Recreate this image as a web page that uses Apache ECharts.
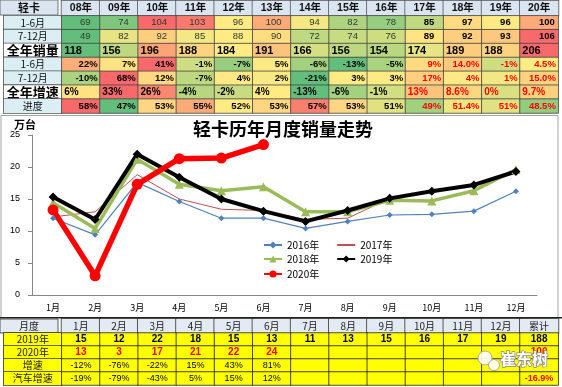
<!DOCTYPE html>
<html><head><meta charset="utf-8">
<script src="https://cdn.jsdelivr.net/npm/echarts@6/dist/echarts.min.js"></script>
<style>html,body{margin:0;padding:0;background:#fff}#c{width:562px;height:387px}</style>
</head><body><div id="c"></div>
<script>
// ---------------- data ----------------
const years = ['08年','09年','10年','11年','12年','13年','14年','15年','16年','17年','18年','19年','20年'];
const topRowLabels = ['1-6月','7-12月','全年销量','1-6月','7-12月','全年增速','进度'];
const sales1H = [69,74,104,103,96,100,94,82,78,85,97,96,100];
const sales2H = [49,82,92,85,88,90,72,74,76,89,92,93,106];
const salesYear = [118,156,196,188,184,191,166,156,154,174,189,188,206];
const growth1H = ['22%','7%','41%','-1%','-7%','5%','-6%','-13%','-5%','9%','14.0%','-1%','4.5%'];
const growth2H = ['-10%','68%','12%','-7%','4%','2%','-21%','3%','3%','17%','4%','1%','15.0%'];
const growthYear = ['6%','33%','26%','-4%','-2%','4%','-13%','-6%','-1%','13%','8.6%','0%','9.7%'];
const progress = ['58%','47%','53%','55%','52%','53%','57%','53%','51%','49%','51.4%','51%','48.5%'];

const months = ['1月','2月','3月','4月','5月','6月','7月','8月','9月','10月','11月','12月'];
const seriesNames = ['2016年','2017年','2018年','2019年','2020年'];
const s2016 = [12.0,9.4,17.6,14.6,12.0,12.0,10.4,11.5,12.5,12.6,13.1,16.2];
const s2017 = [12.2,13.0,18.8,15.0,13.4,13.2,11.8,12.0,15.1,14.6,16.4,19.5];
const s2018 = [14.4,10.4,21.2,17.3,16.3,16.9,13.0,13.0,14.8,14.7,16.3,19.6];
const s2019 = [15.3,11.8,22.0,18.4,15.0,13.1,11.5,13.2,15.1,16.2,17.2,19.3];
const s2020 = [13.3,3.0,17.3,21.3,21.4,23.5];

const bottomCols = ['1月','2月','3月','4月','5月','6月','7月','8月','9月','10月','11月','12月','累计'];
const bottomRowLabels = ['2019年','2020年','增速','汽车增速'];
const b2019 = ['15','12','22','18','15','13','11','13','15','16','17','19','188'];
const b2020 = ['13','3','17','21','22','24','','','','','','','100'];
const bGrowth = ['-12%','-76%','-22%','15%','43%','81%','','','','','','',''];
const bCarGrowth = ['-19%','-79%','-43%','5%','15%','12%','','','','','','','-16.9%'];

// ---------------- helpers ----------------
const FONT = "'Liberation Sans','Noto Sans CJK SC',sans-serif";
const CJK = "'Noto Sans CJK SC',sans-serif";
const bw = (562 - 58 - 2) / 13;
const G = [99,190,123], Y = [255,235,132], R = [248,105,107];
function lerp(a,b,t){return 'rgb('+a.map((v,i)=>Math.round(v+(b[i]-v)*t)).join(',')+')';}
function scaleFor(arr){
  const n = arr.map(v => parseFloat(v));
  const s = [...n].sort((a,b)=>a-b);
  const mn = s[0], mx = s[s.length-1], med = s[Math.floor(s.length/2)];
  return v => { v = parseFloat(v);
    if (v <= med) return lerp(G, Y, med===mn?1:(v-mn)/(med-mn));
    return lerp(Y, R, (v-med)/(mx-med)); };
}
const topRows = [sales1H, sales2H, salesYear, growth1H, growth2H, growthYear, progress];
function topLabel(r, c, text){
  const late = c >= 9;
  const base = {show:true, formatter: String(text), fontFamily: FONT};
  if (r <= 1) return Object.assign(base,{position:'insideRight', distance: c===12?4:10, fontSize:9.5,
      color: late?'#000':'#2d3b2d', fontWeight: late?'bold':'normal'});
  if (r === 2) return Object.assign(base,{position:'insideLeft', distance:3, fontSize:11, fontWeight:'bold', color:'#000'});
  if (r === 5) return Object.assign(base,{position:'insideLeft', distance:3, fontSize:10, fontWeight:'bold', color: late?'#f00':'#000'});
  return Object.assign(base,{position:'insideRight', distance:3, fontSize:9.5, fontWeight:'bold', color: late?'#f00':'#000'});
}
const topData = [];
topRows.forEach((row, r) => {
  const sc = scaleFor(row);
  row.forEach((v, c) => {
    topData.push({value:[c, r, parseFloat(v)], itemStyle:{color: sc(v)}, label: topLabel(r, c, v)});
  });
});
const bottomRows = [b2019, b2020, bGrowth, bCarGrowth];
const bottomData = [];
bottomRows.forEach((row, r) => {
  row.forEach((v, c) => {
    const red = r === 1 || (c === 12 && r === 3);
    bottomData.push({value:[c, r, 1], label:{show:true, formatter: v, fontFamily: FONT,
      fontSize: r<=1 ? 10 : 9, fontWeight: (r<=1 || red) ? 'bold':'normal', color: red?'#f00':'#000'}});
  });
});

const lineColors = ['#4f81bd','#c0504d','#9bbb59','#000000','#ff0000'];
const lineWidths = [1.2, 1, 3.5, 4, 5.5];
const symbols = ['diamond','none','triangle','diamond','circle'];
const symbolSizes = [6, 0, 9, 9, 11];
const lineData = [s2016, s2017, s2018, s2019, s2020];

function legendItem(i){
  return symbols[i] === 'none' ? {name: seriesNames[i], itemStyle:{opacity:0}} : {name: seriesNames[i]};
}

const chart = echarts.init(document.getElementById('c'), null, {renderer:'canvas'});
chart.setOption({
  animation:false,
  backgroundColor:'#fff',
  textStyle:{fontFamily: FONT},
  title:{text:'轻卡历年月度销量走势', left:193, top:120, padding:0,
    textStyle:{fontSize:18, fontWeight:'bold', color:'#000', fontFamily: CJK}},
  legend:[
    {data:[legendItem(0),legendItem(1)], left:263, top:240},
    {data:[legendItem(2),legendItem(3)], left:263, top:254},
    {data:[legendItem(4)], left:263, top:269}
  ].map(l => Object.assign(l,{orient:'horizontal', padding:0, itemGap:17, itemWidth:18, itemHeight:9,
      textStyle:{fontSize:10, color:'#000', fontFamily: CJK}, selectedMode:false})),
  grid:[
    {left:58, right:2, top:15, height:98},
    {left:32, right:25, top:135, height:160},
    {left:58, right:2, top:333, height:52}
  ],
  xAxis:[
    {type:'category', gridIndex:0, position:'top', data: years,
      axisLine:{show:false}, axisTick:{show:false},
      axisLabel:{interval:0, margin:0, formatter: v => '{h|'+v+'}',
        rich:{h:{width:bw, height:15, lineHeight:15, align:'center', backgroundColor:'#dbe5f1',
          borderColor:'#555', borderWidth:0.8, fontWeight:'bold', fontSize:10.5, color:'#111', fontFamily: FONT}}}},
    {type:'category', gridIndex:1, data: months, boundaryGap:true,
      axisLine:{lineStyle:{color:'#868686'}}, axisTick:{inside:true, length:4, lineStyle:{color:'#868686'}},
      axisLabel:{fontSize:9, color:'#000', margin:8, fontFamily: CJK}},
    {type:'category', gridIndex:2, position:'top', data: bottomCols,
      axisLine:{show:false}, axisTick:{show:false},
      axisLabel:{interval:0, margin:0, formatter: v => '{h|'+v+'}',
        rich:{h:{width:bw, height:14, lineHeight:14, align:'center', backgroundColor:'#e3eaf4',
          borderColor:'#333', borderWidth:0.8, fontSize:10, color:'#222', fontFamily: CJK}}}}
  ],
  yAxis:[
    {type:'category', gridIndex:0, inverse:true, data: topRowLabels,
      axisLine:{show:false}, axisTick:{show:false},
      axisLabel:{interval:0, margin:0,
        formatter: (v, i) => (i===2||i===5 ? '{big|' : '{blue|') + v + '}',
        rich:{
          blue:{width:58, height:14, lineHeight:14, align:'center', backgroundColor:'#daeef3',
            borderColor:'#555', borderWidth:0.8, fontSize:10, color:'#111', fontFamily: CJK},
          big:{width:58, height:14, lineHeight:14, align:'center', backgroundColor:'#fff',
            borderColor:'#555', borderWidth:0.8, fontSize:13, fontWeight:'bold', color:'#000', fontFamily: CJK}}}},
    {type:'value', gridIndex:1, min:0, max:25, interval:5, name:'万台', nameLocation:'end', nameGap:5,
      nameTextStyle:{fontSize:11, color:'#000', fontWeight:'bold', align:'center', padding:[0,14,0,0], fontFamily: CJK},
      axisLine:{show:true, lineStyle:{color:'#868686'}}, axisTick:{show:true, length:4, lineStyle:{color:'#868686'}},
      splitLine:{show:false}, axisLabel:{fontSize:9, color:'#000', margin:12}},
    {type:'category', gridIndex:2, inverse:true, data: bottomRowLabels,
      axisLine:{show:false}, axisTick:{show:false},
      axisLabel:{interval:0, margin:0, formatter: v => '{y|'+v+'}',
        rich:{y:{width:58, height:13, lineHeight:13, align:'center', backgroundColor:'#ffff00',
          borderColor:'#333', borderWidth:0.8, fontSize:10, color:'#222', fontFamily: CJK}}}}
  ],
  graphic:[
    {type:'rect', shape:{x:1, y:115.5, width:557, height:202}, style:{fill:'none', stroke:'#a6a6a6', lineWidth:1}, z:-1, silent:true},
    {type:'rect', shape:{x:0, y:0, width:58, height:15}, style:{fill:'#dbe5f1', stroke:'#555', lineWidth:0.8}, silent:true},
    {type:'text', x:29, y:7.5, style:{text:'轻卡', fontSize:11, fontWeight:'bold', fill:'#111', align:'center', verticalAlign:'middle', fontFamily: CJK}, silent:true},
    {type:'rect', shape:{x:0, y:319, width:58, height:14}, style:{fill:'#e3eaf4', stroke:'#333', lineWidth:0.8}, silent:true},
    {type:'text', x:29, y:326, style:{text:'月度', fontSize:10, fill:'#222', align:'center', verticalAlign:'middle', fontFamily: CJK}, silent:true},
    {type:'rect', shape:{x:0, y:317, width:562, height:1.5}, style:{fill:'#222'}, silent:true},
    {type:'circle', shape:{cx:485, cy:358, r:7}, style:{fill:'rgba(255,255,255,0.9)', stroke:'#aaa', lineWidth:1}, z:50, silent:true},
    {type:'circle', shape:{cx:494, cy:365, r:5.5}, style:{fill:'rgba(255,255,255,0.9)', stroke:'#aaa', lineWidth:1}, z:50, silent:true},
    {type:'text', x:500, y:351, style:{text:'崔东树', fontSize:16, fontWeight:'bold', fill:'#fff', stroke:'#8a8a8a', lineWidth:1.5, fontFamily: CJK}, z:50, silent:true}
  ],
  series:[
    {type:'heatmap', xAxisIndex:0, yAxisIndex:0, data: topData, silent:true, emphasis:{disabled:true},
      itemStyle:{borderColor:'#444', borderWidth:0.8}},
    {type:'heatmap', xAxisIndex:2, yAxisIndex:2, data: bottomData, silent:true, emphasis:{disabled:true},
      itemStyle:{color:'#ffff00', borderColor:'#222', borderWidth:0.8}}
  ].concat(lineData.map((d, i) => ({
    type:'line', name: seriesNames[i], xAxisIndex:1, yAxisIndex:1, data: d,
    color: lineColors[i], symbol: symbols[i], symbolSize: symbolSizes[i], showSymbol: symbols[i] !== 'none',
    lineStyle:{width: lineWidths[i], color: lineColors[i]}, itemStyle:{color: lineColors[i]},
    emphasis:{disabled:true}
  })))
});
</script></body></html>
